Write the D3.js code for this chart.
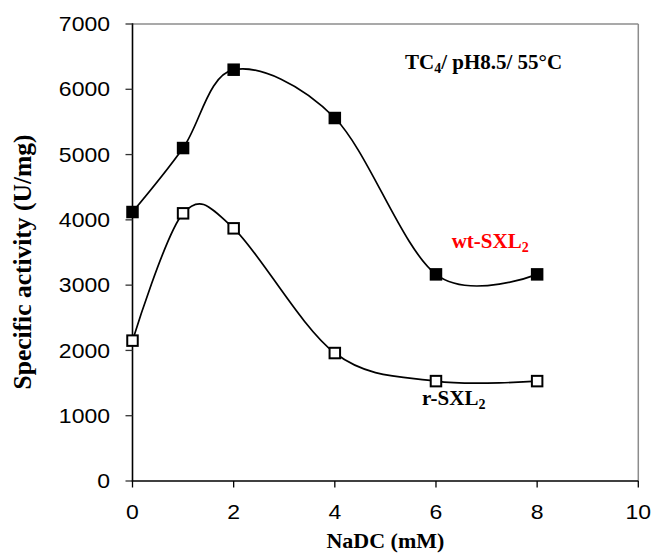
<!DOCTYPE html>
<html>
<head>
<meta charset="utf-8">
<script src="https://cdn.jsdelivr.net/npm/d3@7"></script>
<style>
  html, body { margin: 0; padding: 0; background: #fff; }
  svg { display: block; }
</style>
</head>
<body>
<div id="chart"></div>
<script>
// ---- data ----
const nadc = [0, 1, 2, 4, 6, 8];
const wtSXL2 = [4120, 5100, 6300, 5560, 3165, 3165];
const rSXL2 = [2150, 4100, 3870, 1960, 1530, 1530];
const xTicks = [0, 2, 4, 6, 8, 10];
const yTicks = [0, 1000, 2000, 3000, 4000, 5000, 6000, 7000];

const W = 651, H = 553;
const pL = 132.5, pR = 638.3, pT = 24, pB = 481;

const svg = d3.select("#chart").append("svg")
  .attr("width", W).attr("height", H);

const x = d3.scaleLinear().domain([0, 10]).range([pL, pR]);
const y = d3.scaleLinear().domain([0, 7000]).range([pB, pT]);

// plot frame: top & right grey
svg.append("line").attr("x1", pL).attr("x2", pR).attr("y1", pT).attr("y2", pT)
  .attr("stroke", "#8c8c8c").attr("stroke-width", 1.5);
svg.append("line").attr("x1", pR).attr("x2", pR).attr("y1", pT).attr("y2", pB)
  .attr("stroke", "#8c8c8c").attr("stroke-width", 1.5);

// y axis
svg.append("line").attr("x1", pL).attr("x2", pL).attr("y1", pT - 0.75).attr("y2", pB)
  .attr("stroke", "#000").attr("stroke-width", 1.6);
svg.selectAll(".yt").data(yTicks).enter().append("line")
  .attr("x1", pL - 7).attr("x2", pL)
  .attr("y1", d => y(d)).attr("y2", d => y(d))
  .attr("stroke", "#333").attr("stroke-width", 1.3);
svg.selectAll(".yl").data(yTicks).enter().append("text")
  .attr("transform", d => `translate(110,${y(d)}) scale(1.15,1)`)
  .attr("dy", "0.36em")
  .attr("text-anchor", "end")
  .attr("font-family", "'Liberation Sans', Arial, sans-serif")
  .attr("font-size", 20)
  .attr("fill", "#000")
  .text(d => d);

// x axis
svg.append("line").attr("x1", pL - 0.8).attr("x2", pR).attr("y1", pB).attr("y2", pB)
  .attr("stroke", "#000").attr("stroke-width", 1.6);
svg.selectAll(".xt").data(xTicks).enter().append("line")
  .attr("x1", d => x(d)).attr("x2", d => x(d))
  .attr("y1", pB).attr("y2", pB + 6.5)
  .attr("stroke", "#000").attr("stroke-width", 1.3);
svg.selectAll(".xl").data(xTicks).enter().append("text")
  .attr("transform", d => `translate(${x(d)},519) scale(1.15,1)`)
  .attr("text-anchor", "middle")
  .attr("font-family", "'Liberation Sans', Arial, sans-serif")
  .attr("font-size", 20)
  .attr("fill", "#000")
  .text(d => d);

// axis titles
svg.append("text")
  .attr("x", (pL + pR) / 2).attr("y", 548)
  .attr("text-anchor", "middle")
  .attr("font-family", "'Liberation Serif', 'Times New Roman', serif")
  .attr("font-weight", "bold").attr("font-size", 22)
  .text("NaDC (mM)");
svg.append("text")
  .attr("transform", `translate(31,262) rotate(-90)`)
  .attr("text-anchor", "middle")
  .attr("font-family", "'Liberation Serif', 'Times New Roman', serif")
  .attr("font-weight", "bold").attr("font-size", 25.5)
  .text("Specific activity (U/mg)");

// lines
const line = d3.line()
  .x(d => x(d[0])).y(d => y(d[1]))
  .curve(d3.curveCardinal.tension(0));

const wtPts = nadc.map((v, i) => [v, wtSXL2[i]]);
const rPts = nadc.map((v, i) => [v, rSXL2[i]]);

svg.append("path").datum(wtPts).attr("d", line)
  .attr("fill", "none").attr("stroke", "#000").attr("stroke-width", 1.7);
svg.append("path").datum(rPts).attr("d", line)
  .attr("fill", "none").attr("stroke", "#000").attr("stroke-width", 1.7);

// markers
const S = 12.5;
svg.selectAll(".wtm").data(wtPts).enter().append("rect")
  .attr("x", d => x(d[0]) - S / 2).attr("y", d => y(d[1]) - S / 2)
  .attr("width", S).attr("height", S)
  .attr("fill", "#000");
const s2 = 10.5;
svg.selectAll(".rm").data(rPts).enter().append("rect")
  .attr("x", d => x(d[0]) - s2 / 2).attr("y", d => y(d[1]) - s2 / 2)
  .attr("width", s2).attr("height", s2)
  .attr("fill", "#fff").attr("stroke", "#000").attr("stroke-width", 2);

// annotations
function label(xp, yp, main, sub, rest, color) {
  const t = svg.append("text")
    .attr("x", xp).attr("y", yp)
    .attr("font-family", "'Liberation Serif', 'Times New Roman', serif")
    .attr("font-weight", "bold").attr("font-size", 21)
    .attr("fill", color);
  t.append("tspan").text(main);
  t.append("tspan").attr("font-size", 14).attr("dy", 4).text(sub);
  if (rest) t.append("tspan").attr("dy", -4).text(rest);
}
label(405, 69.3, "TC", "4", "/ pH8.5/ 55°C", "#000");
label(451.7, 248.3, "wt-SXL", "2", null, "#ff0000");
label(422, 404.5, "r-SXL", "2", null, "#000");
</script>
</body>
</html>
